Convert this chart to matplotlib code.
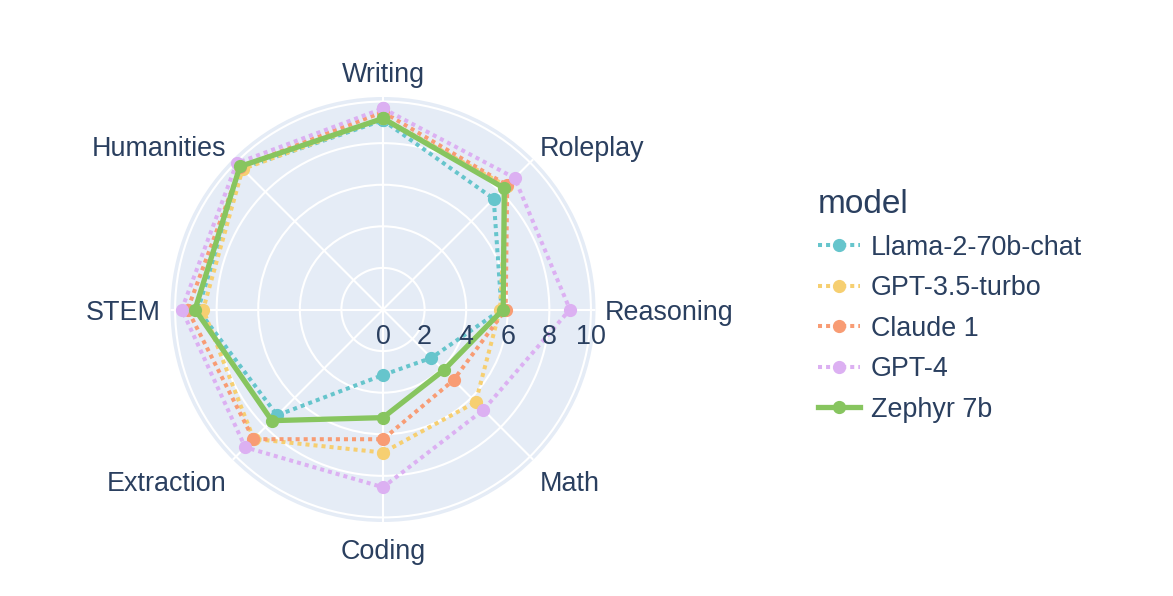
import numpy as np
import matplotlib
matplotlib.use("Agg")
import matplotlib.pyplot as plt

plt.rcParams["font.family"] = ["Liberation Sans", "DejaVu Sans"]

categories = ["Writing", "Roleplay", "Reasoning", "Math",
              "Coding", "Extraction", "STEM", "Humanities"]

models = ["Llama-2-70b-chat", "GPT-3.5-turbo", "Claude 1", "GPT-4", "Zephyr 7b"]

llama = [9.10, 7.53, 5.70, 3.29, 3.15, 7.20, 8.90, 9.60]
gpt35 = [9.20, 8.40, 5.63, 6.30, 6.88, 8.80, 8.65, 9.55]
claude = [9.50, 8.45, 5.90, 4.80, 6.24, 8.82, 9.40, 9.70]
gpt4 = [9.67, 8.95, 8.99, 6.83, 8.55, 9.37, 9.68, 9.95]
zephyr = [9.19, 8.25, 5.78, 4.13, 5.20, 7.56, 9.04, 9.73]

scores = [llama, gpt35, claude, gpt4, zephyr]
colors = ["#66C5CC", "#F6CF71", "#F89C74", "#DCB0F2", "#87C55F"]

radial_ticks = [0, 2, 4, 6, 8, 10]

TXT = "#2a3f5f"
FS = 19.4

W, H = 1173, 596
fig = plt.figure(figsize=(W / 100, H / 100), dpi=100)

# polar area: centre (383, 309.5) px, outer radius 212.5 px
cx, cy, R = 383, 309.5, 212.5
ax = fig.add_axes([(cx - R) / W, 1 - (cy + R) / H, 2 * R / W, 2 * R / H],
                  projection="polar")
ax.set_facecolor("#E5ECF6")
ax.set_theta_zero_location("N")
ax.set_theta_direction(-1)
ax.set_ylim(0, 10.22)

n = len(categories)
angles = np.arange(n) * 2 * np.pi / n

ax.set_xticks(angles)
ax.set_xticklabels([])
ax.set_yticks(radial_ticks)
ax.set_yticklabels([])
ax.grid(True, color="white", linewidth=1.5)
ax.spines["polar"].set_visible(False)
ax.tick_params(length=0)

th_closed = np.append(angles, angles[0])
handles = []
for name, vals, col in zip(models, scores, colors):
    v = np.append(vals, vals[0])
    if name == "Zephyr 7b":
        ln, = ax.plot(th_closed, v, color=col, linewidth=3.8, marker="o",
                      markersize=8.5, solid_joinstyle="miter", label=name,
                      clip_on=False)
    else:
        ln, = ax.plot(th_closed, v, color=col, linewidth=2.9,
                      linestyle=(0, (1, 1)), dash_capstyle="butt", marker="o",
                      markersize=8.5, label=name, clip_on=False)
    handles.append(ln)

# radial tick labels, below the 0-degree spoke
for t in radial_ticks:
    ax.annotate(str(t), xy=(np.pi / 2, t), xytext=(0, -27),
                textcoords="offset pixels", ha="center", va="center",
                fontsize=FS, color=TXT)

# category labels around the outside
r_lab = 222 / 20.8
for ang, lab in zip(angles, categories):
    sx, sy = np.sin(ang), np.cos(ang)
    if abs(sx) < 0.1:
        ha = "center"
    elif sx > 0:
        ha = "left"
    else:
        ha = "right"
    if sy > 0.9:
        dy = 13
    elif sy > 0.1:
        dy = 4
    elif sy > -0.1:
        dy = -3
    elif sy > -0.9:
        dy = -18
    else:
        dy = -21
    ax.annotate(lab, xy=(ang, r_lab), xytext=(0, dy),
                textcoords="offset pixels", ha=ha, va="center",
                fontsize=FS, color=TXT, annotation_clip=False)

leg = fig.legend(handles=handles, loc="upper left",
                 bbox_to_anchor=(818 / W, 1 - 189 / H), frameon=False,
                 title="model", fontsize=FS, title_fontsize=24,
                 handlelength=1.55, handletextpad=0.4, labelspacing=0.54,
                 borderpad=0, borderaxespad=0)
leg._legend_box.align = "left"
for t in leg.get_texts():
    t.set_color(TXT)
leg.get_title().set_color(TXT)

fig.savefig("out.png", dpi=100)
